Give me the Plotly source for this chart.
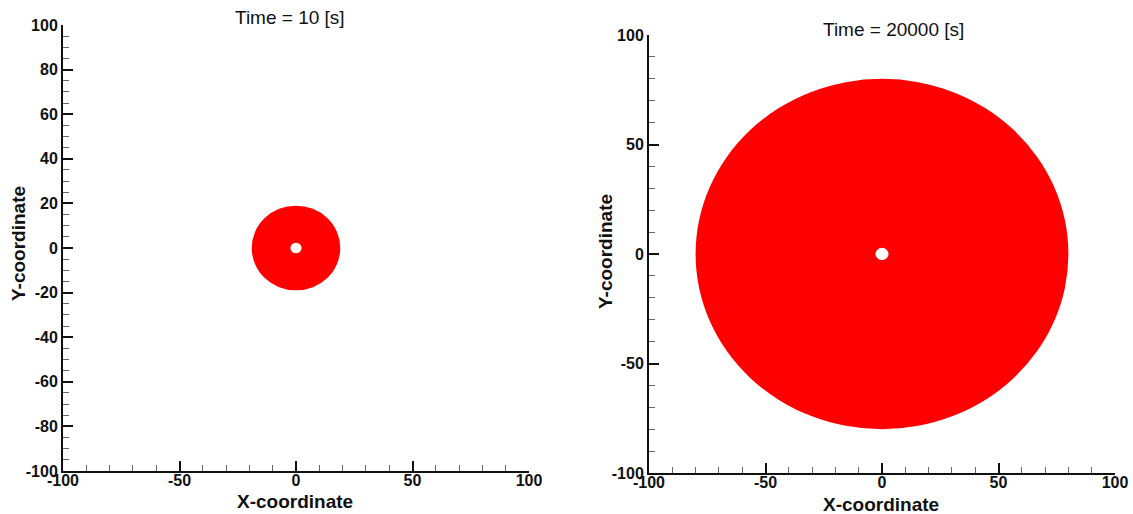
import plotly.graph_objects as go

# ---- data ----
panel_titles = ["Time = 10 [s]", "Time = 20000 [s]"]
outer_radius = [19.0, 80.0]      # radius of the red disc
inner_radius = [2.4, 2.8]        # radius of the white hole
center_x = [0.0, 0.0]
center_y = [0.0, 0.0]
x_range = [-100, 100]
y_range = [-100, 100]
x_tickvals = [[-100, -50, 0, 50, 100], [-100, -50, 0, 50, 100]]
y_tickvals = [[-100, -80, -60, -40, -20, 0, 20, 40, 60, 80, 100], [-100, -50, 0, 50, 100]]
x_minor = [10, 10]
y_minor = [5, 10]

W, H = 1133, 514
FONT = "Liberation Sans, Arial, Helvetica, sans-serif"

def px(x):
    return x / W

def py(y):
    return 1 - y / H

def labels(vals):
    return [str(v) for v in vals]   # plain hyphen-minus like the reference

# plot boxes in pixels: (left, right, top, bottom)
boxes = [(63, 529, 25, 471), (649, 1115, 35, 473)]

fig = go.Figure()
shapes = []
annotations = []
for i in range(2):
    xa = "x" if i == 0 else "x2"
    ya = "y" if i == 0 else "y2"
    fig.add_trace(go.Scatter(x=[center_x[i]], y=[center_y[i]], mode="markers",
                             marker=dict(size=1, color="rgba(0,0,0,0)"),
                             xaxis=xa, yaxis=ya, hoverinfo="skip", showlegend=False))
    r = outer_radius[i]
    shapes.append(dict(type="circle", xref=xa, yref=ya,
                       x0=center_x[i] - r, x1=center_x[i] + r,
                       y0=center_y[i] - r, y1=center_y[i] + r,
                       fillcolor="#ff0000", line=dict(width=0), layer="below"))
    r = inner_radius[i]
    shapes.append(dict(type="circle", xref=xa, yref=ya,
                       x0=center_x[i] - r, x1=center_x[i] + r,
                       y0=center_y[i] - r, y1=center_y[i] + r,
                       fillcolor="#ffffff", line=dict(width=0), layer="below"))

def xaxis_cfg(i):
    l, rgt, t, b = boxes[i]
    return dict(domain=[px(l), px(rgt)], range=x_range, automargin=False,
                tickmode="array", tickvals=x_tickvals[i], ticktext=labels(x_tickvals[i]),
                ticks="inside", ticklen=10, tickwidth=2, tickcolor="#111",
                minor=dict(dtick=x_minor[i], tick0=0, ticks="inside", ticklen=6, tickwidth=1, tickcolor="#666"),
                showline=True, linewidth=2, linecolor="#111", showgrid=False, zeroline=False,
                tickfont=dict(family=FONT, size=16, color="#111", weight="bold"),
                ticklabelstandoff=-6,
                anchor="y" if i == 0 else "y2", fixedrange=True)

def yaxis_cfg(i):
    l, rgt, t, b = boxes[i]
    return dict(domain=[py(b), py(t)], range=y_range, automargin=False,
                tickmode="array", tickvals=y_tickvals[i], ticktext=labels(y_tickvals[i]),
                ticks="inside", ticklen=10, tickwidth=2, tickcolor="#111",
                minor=dict(dtick=y_minor[i], tick0=0, ticks="inside", ticklen=6, tickwidth=1, tickcolor="#666"),
                showline=True, linewidth=2, linecolor="#111", showgrid=False, zeroline=False,
                tickfont=dict(family=FONT, size=16, color="#111", weight="bold"),
                anchor="x" if i == 0 else "x2", fixedrange=True)

# titles
title_pos = [(290, 18), (893, 29)]
for i, (tx, ty) in enumerate(title_pos):
    annotations.append(dict(text=panel_titles[i], x=px(tx), y=py(ty), xref="paper", yref="paper",
                            showarrow=False, xanchor="center", yanchor="middle",
                            font=dict(family=FONT, size=19, color="#111")))
# axis titles
for (tx, ty) in [(295, 501), (881, 504)]:
    annotations.append(dict(text="<b>X-coordinate</b>", x=px(tx), y=py(ty), xref="paper", yref="paper",
                            showarrow=False, xanchor="center", yanchor="middle",
                            font=dict(family=FONT, size=19, color="#111")))
for (tx, ty) in [(18, 244), (605, 252)]:
    annotations.append(dict(text="<b>Y-coordinate</b>", x=px(tx), y=py(ty), xref="paper", yref="paper",
                            showarrow=False, xanchor="center", yanchor="middle", textangle=-90,
                            font=dict(family=FONT, size=19, color="#111")))

fig.update_layout(
    width=W, height=H, margin=dict(l=0, r=0, t=0, b=0),
    paper_bgcolor="white", plot_bgcolor="white",
    xaxis=xaxis_cfg(0), yaxis=yaxis_cfg(0),
    xaxis2=xaxis_cfg(1), yaxis2=yaxis_cfg(1),
    shapes=shapes, annotations=annotations, showlegend=False,
)
fig.write_html("out.html", config={"displayModeBar": False},
               post_script="document.body.style.margin='0';document.body.style.overflow='hidden';")
